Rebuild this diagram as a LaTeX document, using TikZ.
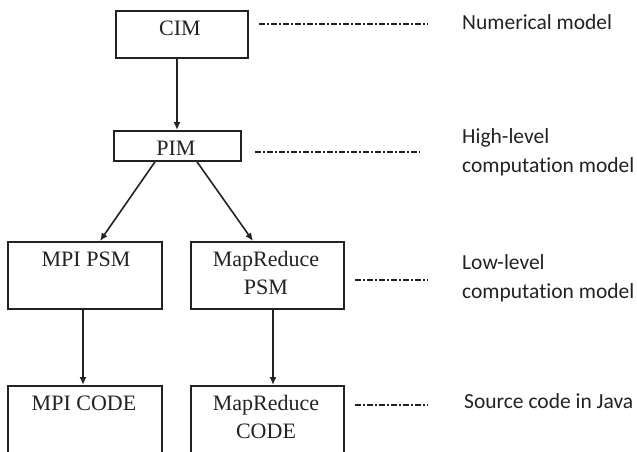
\documentclass[tikz,border=0pt]{standalone}
\usepackage{fontspec}
\setmainfont{Liberation Serif}
\newfontfamily\labelfont[Ligatures=NoCommon]{Carlito}
\usetikzlibrary{arrows.meta}

\definecolor{ink}{HTML}{222222}

\tikzset{
  box/.style={draw=ink, line width=1.8pt, rectangle, inner sep=0pt, anchor=north west},
  boxtext/.style={text=ink, inner sep=0pt, anchor=base, align=center,
    font=\fontsize{22}{28}\selectfont},
  sidetext/.style={text=ink, inner sep=0pt, anchor=base west, align=left,
    font=\labelfont\fontsize{21.5}{28.5}\selectfont},
  arr/.style={draw=ink, line width=1.6pt, -{Latex[length=8pt,width=7pt]}},
  level/.style={draw=ink, line width=1.8pt, dash pattern=on 5.5pt off 2.5pt on 1.5pt off 2.5pt}
}

\begin{document}
\begin{tikzpicture}[x=1pt, y=-1pt]
  \useasboundingbox (0,0) rectangle (637,451);
  \clip (0,0) rectangle (637,451);

  % model boxes
  \node[box, minimum width=132pt, minimum height=47pt] (cim)    at (115,10)  {};
  \node[box, minimum width=127pt, minimum height=30pt] (pim)    at (113,130) {};
  \node[box, minimum width=154pt, minimum height=67pt] (mpipsm) at (7,241)   {};
  \node[box, minimum width=153pt, minimum height=67pt] (mrpsm)  at (190,241) {};
  \node[box, minimum width=154pt, minimum height=90pt] (mpicode) at (7,385)  {};
  \node[box, minimum width=153pt, minimum height=90pt] (mrcode)  at (190,385) {};

  % box captions (base anchor sits on the last line)
  \node[boxtext] (tcim)    at (180,35)    {CIM};
  \node[boxtext] (tpim)    at (176,155)   {PIM};
  \node[boxtext] (tmpipsm) at (86,266.5)  {MPI PSM};
  \node[boxtext] (tmrpsm)  at (266,294)   {MapReduce\\PSM};
  \node[boxtext] (tmpicode) at (84,410)   {MPI CODE};
  \node[boxtext] (tmrcode) at (266,438)   {MapReduce\\CODE};

  % transformations
  \draw[arr] ([xshift=64pt]pim.north west |- cim.south) -- ([xshift=64pt]pim.north west);
  \draw[arr] ([xshift=42pt]pim.south west) -- ([xshift=93pt]mpipsm.north west);
  \draw[arr] ([xshift=84pt]pim.south west) -- ([xshift=63pt]mrpsm.north west);
  \draw[arr] ([xshift=76pt]mpipsm.south west) -- ([xshift=76pt]mpicode.north west);
  \draw[arr] ([xshift=83pt]mrpsm.south west) -- ([xshift=83pt]mrcode.north west);

  % level indicators
  \coordinate (l1a) at (259,24);  \coordinate (l1b) at (428,24);
  \coordinate (l2a) at (255,152); \coordinate (l2b) at (420,152);
  \coordinate (l3a) at (355,280); \coordinate (l3b) at (428,280);
  \coordinate (l4a) at (355,405); \coordinate (l4b) at (428,405);
  \draw[level] (l1a) -- (l1b);
  \draw[level] (l2a) -- (l2b);
  \draw[level] (l3a) -- (l3b);
  \draw[level] (l4a) -- (l4b);

  % level names (base anchor sits on the last line)
  \node[sidetext] (n1) at (462,29)  {Numerical model};
  \node[sidetext] (n2) at (462,172) {High-level\\computation model};
  \node[sidetext] (n3) at (462,298) {Low-level\\computation model};
  \node[sidetext] (n4) at (464,408) {Source code in Java};
\end{tikzpicture}
\end{document}
